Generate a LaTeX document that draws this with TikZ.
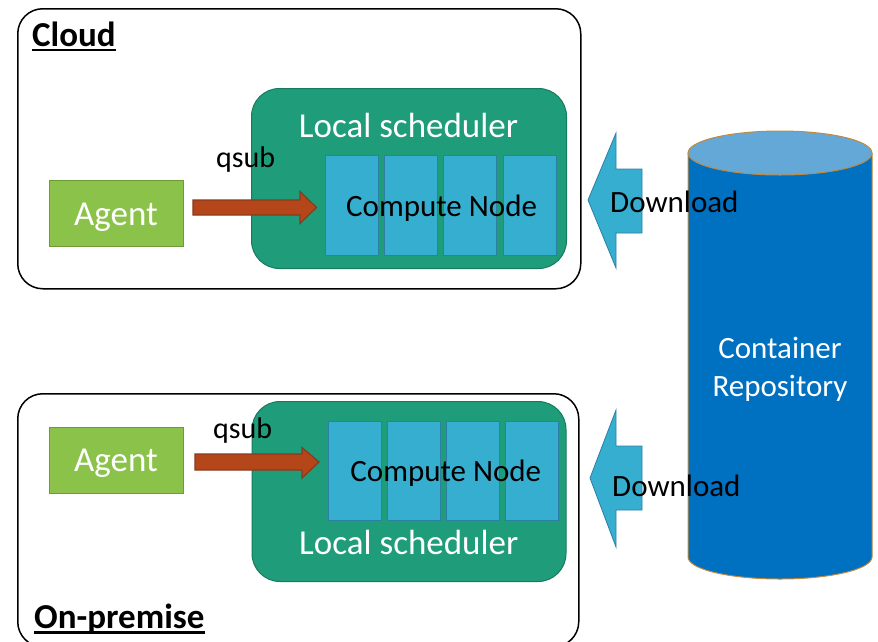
\documentclass[tikz,border=0pt]{standalone}
\usepackage{fontspec}
\setmainfont{Carlito}
\usetikzlibrary{calc}

\definecolor{schedgreen}{HTML}{1F9C79}
\definecolor{schededge}{HTML}{177A5F}
\definecolor{nodeblue}{HTML}{36AECF}
\definecolor{nodeedge}{HTML}{2C80A6}
\definecolor{agentgreen}{HTML}{8BC34A}
\definecolor{agentedge}{HTML}{6E9A3A}
\definecolor{qsubfill}{HTML}{B5461A}
\definecolor{qsubedge}{HTML}{8A3A1E}
\definecolor{repofill}{HTML}{0070C0}
\definecolor{repotop}{HTML}{64A8D8}
\definecolor{repoedge}{HTML}{C08A3E}

\newcommand{\fs}[1]{\fontsize{#1}{#1}\selectfont}

\tikzset{
  sitebox/.style={draw=black, line width=1.5pt, rounded corners=25pt, fill=white,
    anchor=north west, inner sep=0pt},
  schedbox/.style={draw=schededge, line width=1pt, fill=schedgreen, rounded corners=28pt,
    anchor=north west, inner sep=0pt},
  nodecol/.style={draw=nodeedge, line width=1pt, fill=nodeblue, anchor=north west,
    inner sep=0pt, minimum width=53pt, minimum height=100pt},
  agentbox/.style={draw=agentedge, line width=1pt, fill=agentgreen, anchor=north west,
    inner sep=0pt, minimum width=134pt, minimum height=66pt},
  qsubarrow/.style={draw=qsubedge, line width=1.2pt, fill=qsubfill, line join=miter},
  dlarrow/.style={draw=nodeedge, line width=0.8pt, fill=nodeblue},
  whitetxt/.style={text=white, inner sep=0pt, anchor=base},
  blacktxt/.style={text=black, inner sep=0pt, anchor=base},
  titletxt/.style={text=black, inner sep=0pt, anchor=base west, font=\bfseries\fs{35}},
  titlerule/.style={line width=2.2pt},
}

\begin{document}
\begin{tikzpicture}[x=1pt, y=-1pt]
\useasboundingbox (0,0) rectangle (878,641);

% ---- sites ----
\node[sitebox, minimum width=563pt, minimum height=280pt] (cloud) at (17,8) {};
\node[sitebox, minimum width=561pt, minimum height=253pt] (onprem) at (17,393) {};
\node[titletxt] (cloudlbl) at (32,46) {Cloud};
\draw[titlerule] ($(cloudlbl.base west)+(0,4)$) -- ($(cloudlbl.base east)+(0,4)$);
\node[titletxt] (onpremlbl) at (34,628) {On-premise};
\draw[titlerule] ($(onpremlbl.base west)+(0,4.5)$) -- ($(onpremlbl.base east)+(0,4.5)$);

% ---- cloud site ----
\node[schedbox, minimum width=315pt, minimum height=180pt] (schedA) at (251,88) {};
\node[whitetxt, font=\fs{35}] (schedAlbl) at (408.5,137) {Local scheduler};
\node[nodecol] (cA1) at (324.5,155) {};
\node[nodecol] (cA2) at (384,155) {};
\node[nodecol] (cA3) at (443,155) {};
\node[nodecol] (cA4) at (502.5,155) {};
\node[blacktxt, font=\fs{31}] (computeA) at (441.6,216) {Compute Node};
\node[agentbox] (agentA) at (49,180) {};
\node[whitetxt, font=\fs{35}] (agentAlbl) at (116,225) {Agent};
\coordinate (qA) at (193,207.5);
\draw[qsubarrow] ($(qA)+(0,-7.5)$) -- ++(107,0) -- ++(0,-8.5) -- (316.5,207.5)
  -- (300,223.5) -- ++(0,-8.5) -- ++(-107,0) -- cycle;
\node[blacktxt, anchor=base west, font=\fs{30}] (qsubA) at (216,167) {qsub};

% ---- on-premise site ----
\node[schedbox, minimum width=314pt, minimum height=180pt] (schedB) at (251.5,401) {};
\node[whitetxt, font=\fs{35}] (schedBlbl) at (408.8,554) {Local scheduler};
\node[nodecol, minimum height=99pt] (cB1) at (328,421) {};
\node[nodecol, minimum height=99pt] (cB2) at (386.5,421) {};
\node[nodecol, minimum height=99pt] (cB3) at (445.8,421) {};
\node[nodecol, minimum height=99pt] (cB4) at (505,421) {};
\node[blacktxt, font=\fs{31}] (computeB) at (445.8,481.7) {Compute Node};
\node[agentbox] (agentB) at (49,427) {};
\node[whitetxt, font=\fs{35}] (agentBlbl) at (116,471.7) {Agent};
\coordinate (qB) at (195,462);
\draw[qsubarrow] ($(qB)+(0,-8)$) -- ++(107,0) -- ++(0,-6.5) -- (319,462)
  -- (302,478) -- ++(0,-8) -- ++(-107,0) -- cycle;
\node[blacktxt, anchor=base west, font=\fs{30}] (qsubB) at (213,438) {qsub};

% ---- container repository ----
\fill[repofill] (688,153) -- (688,557)
  arc[start angle=180, end angle=0, x radius=92, y radius=22] -- (872,153) -- cycle;
\draw[repoedge, line width=1pt] (688,153) -- (688,557)
  arc[start angle=180, end angle=0, x radius=92, y radius=22] -- (872,153);
\draw[repoedge, line width=1pt, fill=repotop] (780,153) ellipse[x radius=92, y radius=22];
\node[whitetxt, font=\fs{31}] (repoA) at (780,358) {Container};
\node[whitetxt, font=\fs{31}] (repoB) at (780,396) {Repository};

% ---- download arrows ----
\draw[dlarrow] (588,200) -- (616,133) -- (616,169) -- (642,169) -- (642,233)
  -- (616,233) -- (616,268) -- cycle;
\draw[dlarrow] (590,478) -- (616,410) -- (616,446) -- (642,446) -- (642,510)
  -- (616,510) -- (616,547) -- cycle;
\node[blacktxt, anchor=base west, font=\fs{31}] (dlA) at (610,212.7) {Download};
\node[blacktxt, anchor=base west, font=\fs{31}] (dlB) at (612,496.7) {Download};

\end{tikzpicture}
\end{document}
